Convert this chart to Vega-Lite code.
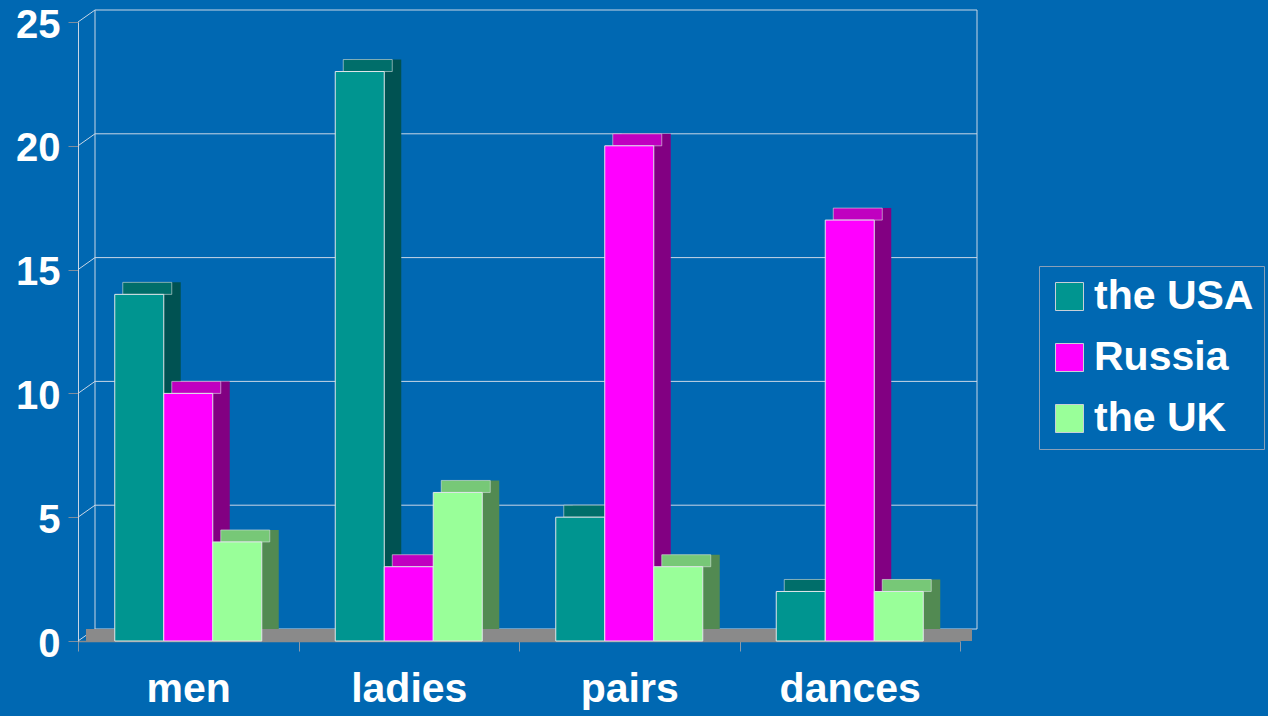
{
  "$schema": "https://vega.github.io/schema/vega-lite/v6.json",
  "width": 882,
  "height": 619,
  "autosize": {"type": "none"},
  "padding": {"left": 78, "top": 22, "right": 308, "bottom": 75},
  "background": "#0068b2",
  "config": {"view": {"stroke": null}, "font": "Liberation Sans"},
  "datasets": {
    "medals": [
      {"event": "men", "country": "the USA", "medals": 14},
      {"event": "men", "country": "Russia", "medals": 10},
      {"event": "men", "country": "the UK", "medals": 4},
      {"event": "ladies", "country": "the USA", "medals": 23},
      {"event": "ladies", "country": "Russia", "medals": 3},
      {"event": "ladies", "country": "the UK", "medals": 6},
      {"event": "pairs", "country": "the USA", "medals": 5},
      {"event": "pairs", "country": "Russia", "medals": 20},
      {"event": "pairs", "country": "the UK", "medals": 3},
      {"event": "dances", "country": "the USA", "medals": 2},
      {"event": "dances", "country": "Russia", "medals": 17},
      {"event": "dances", "country": "the UK", "medals": 2}
    ],
    "grid": [{"v": 0}, {"v": 5}, {"v": 10}, {"v": 15}, {"v": 20}, {"v": 25}]
  },
  "layer": [
    {
      "data": {"name": "grid"},
      "mark": {"type": "rule", "color": "#c8d6e6", "strokeWidth": 1, "xOffset": 17, "x2Offset": 17, "yOffset": -12},
      "encoding": {
        "x": {"datum": "men", "bandPosition": 0, "type": "nominal",
          "scale": {"domain": ["men", "ladies", "pairs", "dances"], "paddingInner": 0, "paddingOuter": 0},
          "axis": {"title": null, "labelAngle": 0, "labelAlign": "center", "labelBaseline": "top", "labelFont": "Liberation Sans", "labelFontWeight": "bold", "labelFontSize": 41, "labelColor": "white", "labelPadding": 18, "tickBand": "extent", "tickColor": "#8a9aaa", "tickSize": 10, "domainColor": "#8a8a8a", "domainWidth": 1.5}},
        "x2": {"datum": "dances", "bandPosition": 1},
        "y": {"field": "v", "type": "quantitative", "scale": {"domain": [0, 25], "nice": false},
          "axis": {"title": null, "values": [0, 5, 10, 15, 20, 25], "grid": false, "labelFont": "Liberation Sans", "labelFontWeight": "bold", "labelFontSize": 40, "labelColor": "white", "labelPadding": 8, "labelOffset": 3, "tickColor": "#7f8f9f", "tickSize": 10, "domainColor": "#c8d6e6"}}
      }
    },
    {
      "data": {"name": "grid"},
      "mark": {"type": "rule", "color": "#c8d6e6", "strokeWidth": 1, "x2Offset": 17, "y2Offset": -12},
      "encoding": {
        "x": {"datum": "men", "bandPosition": 0, "type": "nominal"},
        "x2": {"datum": "men", "bandPosition": 0},
        "y": {"field": "v", "type": "quantitative"},
        "y2": {"field": "v"}
      }
    },
    {
      "data": {"values": [{"a": 1}]},
      "mark": {"type": "rule", "color": "#c8d6e6", "strokeWidth": 1, "xOffset": 17, "yOffset": -12, "y2Offset": -12},
      "encoding": {
        "x": {"datum": "men", "bandPosition": 0, "type": "nominal"},
        "y": {"datum": 0, "type": "quantitative"},
        "y2": {"datum": 25}
      }
    },
    {
      "data": {"values": [{"a": 1}]},
      "mark": {"type": "rule", "color": "#c8d6e6", "strokeWidth": 1, "xOffset": 17, "yOffset": -12, "y2Offset": -12},
      "encoding": {
        "x": {"datum": "dances", "bandPosition": 1, "type": "nominal"},
        "y": {"datum": 0, "type": "quantitative"},
        "y2": {"datum": 25}
      }
    },
    {
      "data": {"values": [{"a": 1}]},
      "mark": {"type": "rect", "color": "#8a8a8a", "xOffset": 8, "x2Offset": 12, "yOffset": -12, "y2Offset": 0},
      "encoding": {
        "x": {"datum": "men", "bandPosition": 0, "type": "nominal"},
        "x2": {"datum": "dances", "bandPosition": 1},
        "y": {"datum": 0, "type": "quantitative"},
        "y2": {"datum": 0}
      }
    },
    {
      "data": {"name": "medals"},
      "mark": {"type": "bar", "yOffset": -12, "y2Offset": -12},
      "encoding": {
        "x": {"field": "event", "type": "nominal", "sort": ["men", "ladies", "pairs", "dances"]},
        "xOffset": {"field": "country", "type": "nominal", "sort": ["the USA", "Russia", "the UK"], "scale": {"paddingInner": 0, "paddingOuter": 0.75, "range": [17, 237.5]}},
        "y": {"field": "medals", "type": "quantitative"},
        "color": {"field": "country", "type": "nominal", "legend": null,
          "scale": {"domain": ["the USA", "Russia", "the UK"], "range": ["#005252", "#820082", "#528a52"]}}
      }
    },
    {
      "data": {"name": "medals"},
      "mark": {"type": "bar", "yOffset": -12, "stroke": "#d8e0e0", "strokeWidth": 0.6},
      "encoding": {
        "x": {"field": "event", "type": "nominal", "sort": ["men", "ladies", "pairs", "dances"]},
        "xOffset": {"field": "country", "type": "nominal", "sort": ["the USA", "Russia", "the UK"], "scale": {"paddingInner": 0, "paddingOuter": 0.75, "range": [8, 228.5]}},
        "y": {"field": "medals", "type": "quantitative"},
        "y2": {"field": "medals"},
        "color": {"field": "country", "type": "nominal", "legend": null,
          "scale": {"domain": ["the USA", "Russia", "the UK"], "range": ["#006e6a", "#c000c0", "#77c877"]}}
      }
    },
    {
      "data": {"name": "medals"},
      "mark": {"type": "bar", "stroke": "#e0e6ea", "strokeWidth": 1},
      "encoding": {
        "x": {"field": "event", "type": "nominal", "sort": ["men", "ladies", "pairs", "dances"]},
        "xOffset": {"field": "country", "type": "nominal", "sort": ["the USA", "Russia", "the UK"], "scale": {"paddingInner": 0, "paddingOuter": 0.75, "range": [0, 220.5]}},
        "y": {"field": "medals", "type": "quantitative"},
        "color": {"field": "country", "type": "nominal", "sort": ["the USA", "Russia", "the UK"],
          "scale": {"domain": ["the USA", "Russia", "the UK"], "range": ["#009590", "#ff00ff", "#99ff99"]},
          "legend": {"title": null, "orient": "none", "legendX": 961, "legendY": 244, "symbolType": "square", "symbolSize": 784, "symbolStrokeColor": "#c8d0d8", "symbolStrokeWidth": 1, "labelFont": "Liberation Sans", "labelFontWeight": "bold", "labelFontSize": 41, "labelColor": "white", "labelOffset": 4, "rowPadding": 19, "padding": 10, "strokeColor": "#8aa0b8", "labelLimit": 400}}
      }
    }
  ],
  "resolve": {"scale": {"color": "independent", "xOffset": "independent"}}
}
